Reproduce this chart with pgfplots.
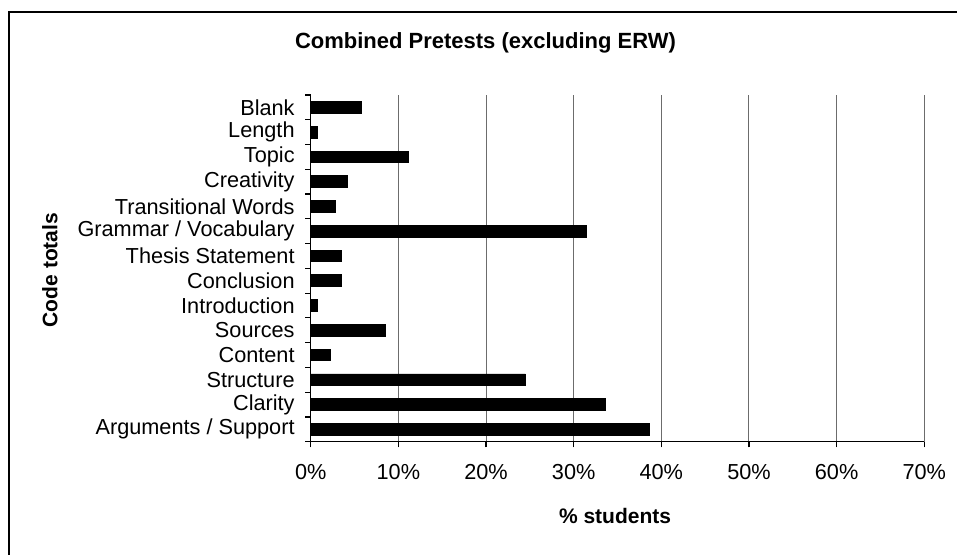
\documentclass[border=0pt]{standalone}
\usepackage{pgfplots}
\pgfplotsset{compat=1.18}
\usepackage{fontspec}
\setmainfont{Liberation Sans}
\begin{document}
\begin{tikzpicture}
\useasboundingbox (0pt,0pt) rectangle (478.5pt,-277.5pt);
\clip (0pt,0pt) rectangle (478.5pt,-277.5pt);
\draw[line width=1.1pt] (4.5pt,-300pt) -- (4.5pt,-5.85pt) -- (500pt,-5.85pt);
\node[anchor=base, inner sep=0pt, font=\fontsize{11}{13}\selectfont\bfseries] at (242.75pt,-24.15pt) {Combined Pretests (excluding ERW)};
\begin{axis}[
  at={(155.35pt,-220.85pt)}, anchor=south west,
  width=306.8pt, height=173.35pt, scale only axis,
  xmin=0, xmax=70, ymin=-0.5, ymax=13.5,
  xbar, bar width=5.85pt,
  axis x line*=bottom, axis y line*=left,
  axis line style={-, black, line width=0.6pt},
  tick align=outside, major tick length=2.85pt,
  tick style={black, line width=0.6pt},
  xtick={0,10,...,70},
  xticklabels={0\%,10\%,20\%,30\%,40\%,50\%,60\%,70\%},
  xticklabel style={font=\fontsize{10.85}{13}\selectfont, inner sep=0pt, anchor=north, yshift=-8.4pt},
  ytick={-0.5,0.5,...,13.5},
  yticklabels={},
  extra y ticks={0,1,...,13},
  extra y tick labels={Arguments / Support, Clarity, Structure, Content, Sources, Introduction, Conclusion, Thesis Statement, Grammar / Vocabulary, Transitional Words, Creativity, Topic, Length, Blank},
  extra y tick style={major tick length=0pt, yticklabel style={font=\fontsize{10.85}{13}\selectfont, inner sep=0pt, anchor=east, xshift=-7.85pt}},
  xmajorgrids, x grid style={gray!85!black, line width=0.5pt},
  xlabel={\% students},
  xlabel style={font=\fontsize{10.5}{13}\selectfont\bfseries, at={(axis description cs:0.496,0)}, anchor=base, inner sep=0pt, yshift=-40.65pt},
  ylabel={Code totals},
  ylabel style={font=\fontsize{10.5}{13}\selectfont\bfseries, at={(axis description cs:-0.4249,0.495)}, anchor=center, inner sep=0pt},
]
\addplot[fill=black, draw=black] coordinates {
(38.6,0) (33.6,1) (24.5,2) (2.2,3) (8.55,4) (0.8,5) (3.5,6) (3.5,7) (31.5,8) (2.8,9) (4.2,10) (11.2,11) (0.8,12) (5.8,13)};
\end{axis}
\end{tikzpicture}
\end{document}
